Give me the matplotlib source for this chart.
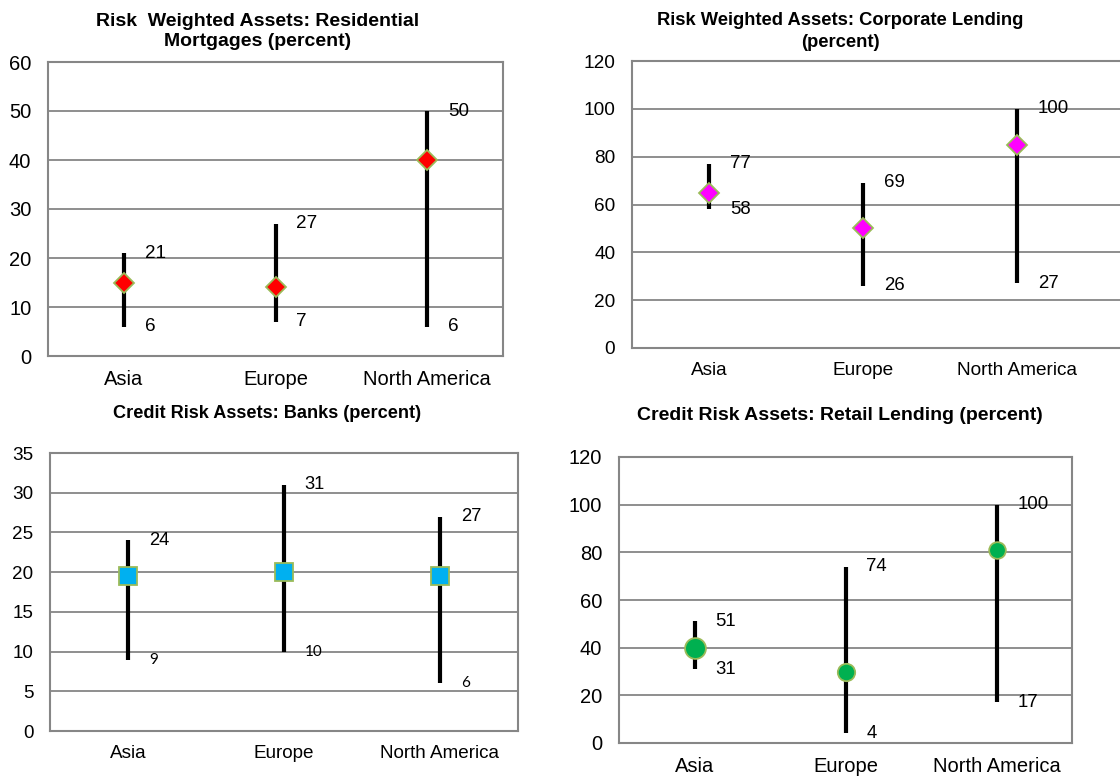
import matplotlib
matplotlib.use("Agg")
import matplotlib.pyplot as plt

plt.rcParams['font.family'] = ['Liberation Sans', 'DejaVu Sans']

regions = ['Asia', 'Europe', 'North America']

# Risk Weighted Assets: Residential Mortgages
mort_low = [6, 7, 6]
mort_high = [21, 27, 50]
mort_mid = [15, 14, 40]

# Risk Weighted Assets: Corporate Lending
corp_low = [58, 26, 27]
corp_high = [77, 69, 100]
corp_mid = [65, 50, 85]

# Credit Risk Assets: Banks
bank_low = [9, 10, 6]
bank_high = [24, 31, 27]
bank_mid = [19.5, 20, 19.5]

# Credit Risk Assets: Retail Lending
ret_low = [31, 4, 17]
ret_high = [51, 74, 100]
ret_mid = [40, 30, 81]

W, H = 1120, 778
fig = plt.figure(figsize=(W / 100, H / 100), dpi=100)
fig.patch.set_facecolor('white')

grid_c = '#868686'
edge_g = '#9bbb59'


def make_ax(left, right, top, bottom):
    return fig.add_axes([left / W, 1 - bottom / H, (right - left) / W, (bottom - top) / H])


def style(ax, ymax, ystep, tsize, xmax=2.5, show_right=True):
    ax.set_xlim(-0.5, xmax)
    ax.set_ylim(0, ymax)
    ax.set_yticks(range(0, ymax + 1, ystep))
    ax.set_xticks(range(3))
    ax.set_xticklabels(regions)
    ax.tick_params(length=0, labelsize=tsize)
    ax.tick_params(axis='y', pad=12)
    ax.tick_params(axis='x', pad=10)
    for s in ax.spines.values():
        s.set_color(grid_c)
        s.set_linewidth(1.5)
    ax.spines['right'].set_visible(show_right)
    for yv in range(ystep, ymax, ystep):
        ax.axhline(yv, color=grid_c, lw=1.3, zorder=1)


def draw(ax, low, high, mid, marker, ms, color, lsize=13.5, low_font=None, low_size=None):
    x = range(len(regions))
    ax.vlines(x, low, high, color='black', lw=3, zorder=2)
    for i in x:
        ms_i = ms[i] if isinstance(ms, list) else ms
        ax.plot(i, mid[i], marker=marker, ms=ms_i, mfc=color, mec=edge_g, mew=1.3,
                zorder=3, clip_on=False)
        ax.annotate(str(high[i]), (i, high[i]), xytext=(15, 0), textcoords='offset points',
                    ha='left', va='center', fontsize=lsize, zorder=4)
        kw = {}
        if low_font:
            kw['family'] = low_font
        ax.annotate(str(low[i]), (i, low[i]), xytext=(15, 0), textcoords='offset points',
                    ha='left', va='center', fontsize=low_size or lsize, zorder=4, **kw)


ax1 = make_ax(48, 503, 62, 356)
style(ax1, 60, 10, 14.5)
draw(ax1, mort_low, mort_high, mort_mid, 'D', 10, 'red', lsize=13.6)
fig.text(258 / W, 1 - 31.5 / H, 'Risk  Weighted Assets: Residential\nMortgages (percent)',
         ha='center', va='center', fontsize=14, fontweight='bold', linespacing=1.3)

ax2 = make_ax(632, 1120, 61, 348)
style(ax2, 120, 20, 13.7, xmax=2.5 + 26 / 154, show_right=False)
draw(ax2, corp_low, corp_high, corp_mid, 'D', 10, '#ff00ff', lsize=13.4)
fig.text(840 / W, 1 - 31.5 / H, 'Risk Weighted Assets: Corporate Lending\n(percent)',
         ha='center', va='center', fontsize=13.2, fontweight='bold', linespacing=1.38)

ax3 = make_ax(50, 518, 453, 731)
style(ax3, 35, 5, 13.6)
draw(ax3, bank_low, bank_high, bank_mid, 's', 13.5, '#00b0f0', lsize=13.2,
     low_font='Lato', low_size=11)
fig.text(267 / W, 1 - 413 / H, 'Credit Risk Assets: Banks (percent)',
         ha='center', va='center', fontsize=13.1, fontweight='bold')

ax4 = make_ax(619, 1072, 457, 743)
style(ax4, 120, 20, 14.5)
draw(ax4, ret_low, ret_high, ret_mid, 'o', [15, 12.5, 12], '#00b050', lsize=13.4)
fig.text(840 / W, 1 - 415 / H, 'Credit Risk Assets: Retail Lending (percent)',
         ha='center', va='center', fontsize=14, fontweight='bold')

fig.savefig('out.png', dpi=100, facecolor='white')
